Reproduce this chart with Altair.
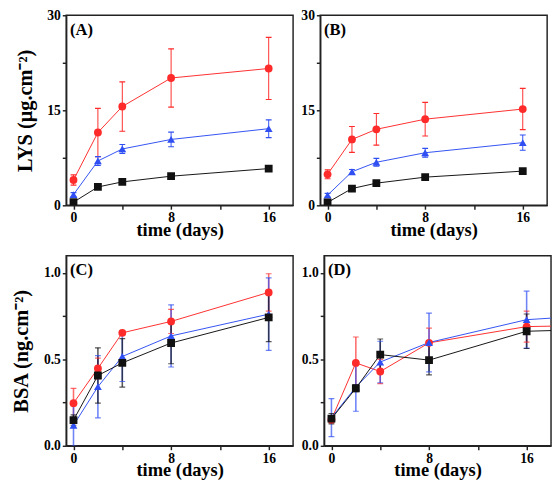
import altair as alt
import pandas as pd

days = [0, 2, 4, 8, 16]
days_d = [0, 2, 4, 8, 16, 24]
series_names = ["red", "blue", "black"]
series_colors = ["#ff2b2b", "#2f4ff2", "#111111"]
series_shapes = ["circle", "triangle-up", "square"]

# Panel A: LYS
a_red = [4.0, 11.5, 15.6, 20.1, 21.6]
a_red_err = [0.8, 3.8, 3.9, 4.6, 4.9]
a_blue = [1.7, 7.0, 8.9, 10.4, 12.1]
a_blue_err = [0.3, 0.7, 0.7, 1.15, 1.4]
a_black = [0.5, 2.9, 3.7, 4.6, 5.8]
a_black_err = [0.15, 0.2, 0.2, 0.2, 0.25]

# Panel B: LYS
b_red = [4.9, 10.4, 12.0, 13.6, 15.2]
b_red_err = [0.7, 2.05, 2.5, 2.65, 3.25]
b_blue = [1.6, 5.3, 6.8, 8.3, 9.9]
b_blue_err = [0.3, 0.35, 0.6, 0.7, 1.2]
b_black = [0.45, 2.65, 3.5, 4.45, 5.4]
b_black_err = [0.15, 0.2, 0.2, 0.2, 0.25]

# Panel C: BSA
c_red = [0.247, 0.448, 0.654, 0.72, 0.888]
c_red_err = [0.085, 0.06, 0.01, 0.07, 0.108]
c_blue = [0.119, 0.342, 0.517, 0.636, 0.762]
c_blue_err = [0.12, 0.18, 0.145, 0.18, 0.21]
c_black = [0.149, 0.407, 0.48, 0.595, 0.743]
c_black_err = [0.03, 0.16, 0.14, 0.12, 0.14]

# Panel D: BSA (last point lies beyond the visible axis)
d_red = [0.152, 0.48, 0.43, 0.596, 0.69, 0.70]
d_red_err = [0.02, 0.15, 0.07, 0.085, 0.09, 0.0]
d_blue = [0.163, 0.34, 0.485, 0.598, 0.73, 0.766]
d_blue_err = [0.11, 0.14, 0.12, 0.17, 0.165, 0.0]
d_black = [0.157, 0.333, 0.528, 0.496, 0.663, 0.679]
d_black_err = [0.03, 0.02, 0.09, 0.085, 0.1, 0.0]

x_ticks = [0, 4, 8, 12, 16]
lys_ticks = [0, 7.5, 15, 22.5, 30]
bsa_ticks = [0, 0.25, 0.5, 0.75, 1.0]

FONT = "Liberation Serif"


def build_df(xs, vals, errs):
    rows = []
    for s, v, e in zip(series_names, vals, errs):
        for d, yv, ye in zip(xs, v, e):
            rows.append(dict(series=s, day=d, value=yv, lo=yv - ye, hi=yv + ye))
    return pd.DataFrame(rows)


def panel(df, ydom, yticks, ylabel_expr, yfmt, ytitle, tag, errw, erropac):
    xaxis = alt.Axis(values=x_ticks, labelExpr="datum.value % 8 == 0 ? datum.label : ''",
                     title="time (days)", grid=False, labelFlush=False, titlePadding=-4)
    yaxis = alt.Axis(values=yticks, labelExpr=ylabel_expr, format=yfmt, title=ytitle,
                     grid=False, titlePadding=12)
    xs = alt.Scale(domain=[-0.6, 18], nice=False, zero=False)
    ys = alt.Scale(domain=ydom, nice=False, zero=False)

    def X():
        return alt.X("day:Q", scale=xs, axis=xaxis)

    def Y(field):
        return alt.Y(field + ":Q", scale=ys, axis=yaxis)

    color = alt.Color("series:N", scale=alt.Scale(domain=series_names, range=series_colors), legend=None)
    shape = alt.Shape("series:N", scale=alt.Scale(domain=series_names, range=series_shapes), legend=None)
    base = alt.Chart(df)
    line = base.mark_line(strokeWidth=1, clip=True).encode(x=X(), y=Y("value"), color=color)
    rule = base.mark_rule(strokeWidth=errw, opacity=erropac, clip=True).encode(
        x=X(), y=Y("lo"), y2="hi:Q", color=color)
    cap_lo = base.mark_tick(orient="horizontal", size=6, thickness=1.2, opacity=erropac, clip=True).encode(
        x=X(), y=Y("lo"), color=color)
    cap_hi = base.mark_tick(orient="horizontal", size=6, thickness=1.2, opacity=erropac, clip=True).encode(
        x=X(), y=Y("hi"), color=color)
    pts = base.mark_point(filled=True, size=65, opacity=1, clip=True).encode(
        x=X(), y=Y("value"), color=color, shape=shape)
    lab = alt.Chart(pd.DataFrame({"tag": [tag]})).mark_text(
        align="left", baseline="middle", font=FONT, fontWeight="bold", fontSize=17, color="black"
    ).encode(text="tag:N", x=alt.value(4), y=alt.value(15))
    return alt.layer(line, rule, cap_lo, cap_hi, pts, lab).properties(width=234, height=196)


lys_expr = "datum.value % 15 == 0 ? datum.label : ''"
bsa_expr = "(datum.value == 0.25 || datum.value == 0.75) ? '' : datum.label"

pa = panel(build_df(days, [a_red, a_blue, a_black], [a_red_err, a_blue_err, a_black_err]),
           [0, 30], lys_ticks, lys_expr, "d", "LYS (μg.cm⁻²)", "(A)", 1, 1)
pb = panel(build_df(days, [b_red, b_blue, b_black], [b_red_err, b_blue_err, b_black_err]),
           [0, 30], lys_ticks, lys_expr, "d", None, "(B)", 1, 1)
pc = panel(build_df(days, [c_red, c_blue, c_black], [c_red_err, c_blue_err, c_black_err]),
           [0, 1.1], bsa_ticks, bsa_expr, ".1f", "BSA (ng.cm⁻²)", "(C)", 1.6, 0.7)
pd_ = panel(build_df(days_d, [d_red, d_blue, d_black], [d_red_err, d_blue_err, d_black_err]),
            [0, 1.1], bsa_ticks, bsa_expr, ".1f", None, "(D)", 1.6, 0.7)

top = alt.hconcat(pa, pb, spacing=6)
bottom = alt.hconcat(pc, pd_, spacing=6)
chart = alt.vconcat(top, bottom, spacing=15).properties(
    padding={"left": 2, "top": -8, "right": 0, "bottom": 0}
).configure_view(
    stroke="#222", strokeWidth=1.5
).configure_axis(
    domainColor="#222", domainWidth=1.5, tickColor="#222", tickWidth=1.5, tickSize=4,
    labelFont=FONT, labelFontWeight="bold", labelFontSize=14, labelColor="black", labelPadding=2,
    titleFont=FONT, titleFontWeight="bold", titleColor="black"
).configure_axisX(titleFontSize=19).configure_axisY(titleFontSize=21)

chart.save("out.html", embed_options={"renderer": "svg", "actions": False})
